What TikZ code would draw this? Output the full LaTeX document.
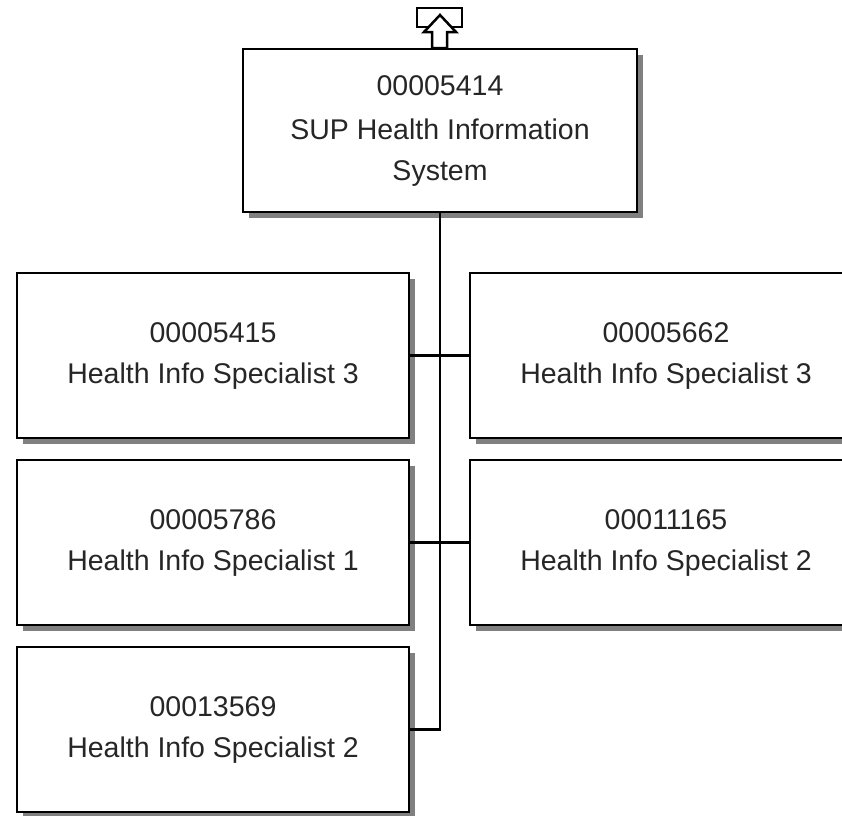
\documentclass[tikz,border=0pt]{standalone}
\usepackage{fontspec}
\setmainfont{Liberation Sans}
\usetikzlibrary{shadows}
\begin{document}
\begin{tikzpicture}[x=1pt,y=-1pt,
  box/.style={draw=black, line width=2.5pt, fill=white, minimum width=392pt, minimum height=165pt,
    inner sep=0pt, align=center, font=\fontsize{28.5}{41}\selectfont, text=black!85,
    drop shadow={shadow xshift=6pt, shadow yshift=-6pt, fill=black!50, opacity=1}},
  conn/.style={draw=black, line width=2.2pt}]
\useasboundingbox (0,0) rectangle (842,815);
\clip (0,0) rectangle (842,815);
\node[box, minimum width=394pt, minimum height=163pt] (top) at (440,130.5) {\raisebox{3pt}{00005414}\\SUP Health Information\\System};
\node[box] (l1) at (213,355.5) {00005415\\Health Info Specialist 3};
\node[box] (l2) at (213,542.5) {00005786\\Health Info Specialist 1};
\node[box] (l3) at (213,729.5) {00013569\\Health Info Specialist 2};
\node[box] (r1) at (666,355.5) {00005662\\Health Info Specialist 3};
\node[box] (r2) at (666,542.5) {00011165\\Health Info Specialist 2};
\draw[conn] (top.south) |- (l3.east);
\draw[conn] (l1.east) -- (r1.west);
\draw[conn] (l2.east) -- (r2.west);
\node[draw=black, line width=2.5pt, fill=white, minimum width=45pt, minimum height=19pt, inner sep=0pt] (icon) at (439.5,17.5) {};
\draw[line width=2.5pt, fill=white] (440,15) -- (456,32) -- (447,32) -- (447,48) -- (432,48) -- (432,32) -- (424,32) -- cycle;
\end{tikzpicture}
\end{document}
